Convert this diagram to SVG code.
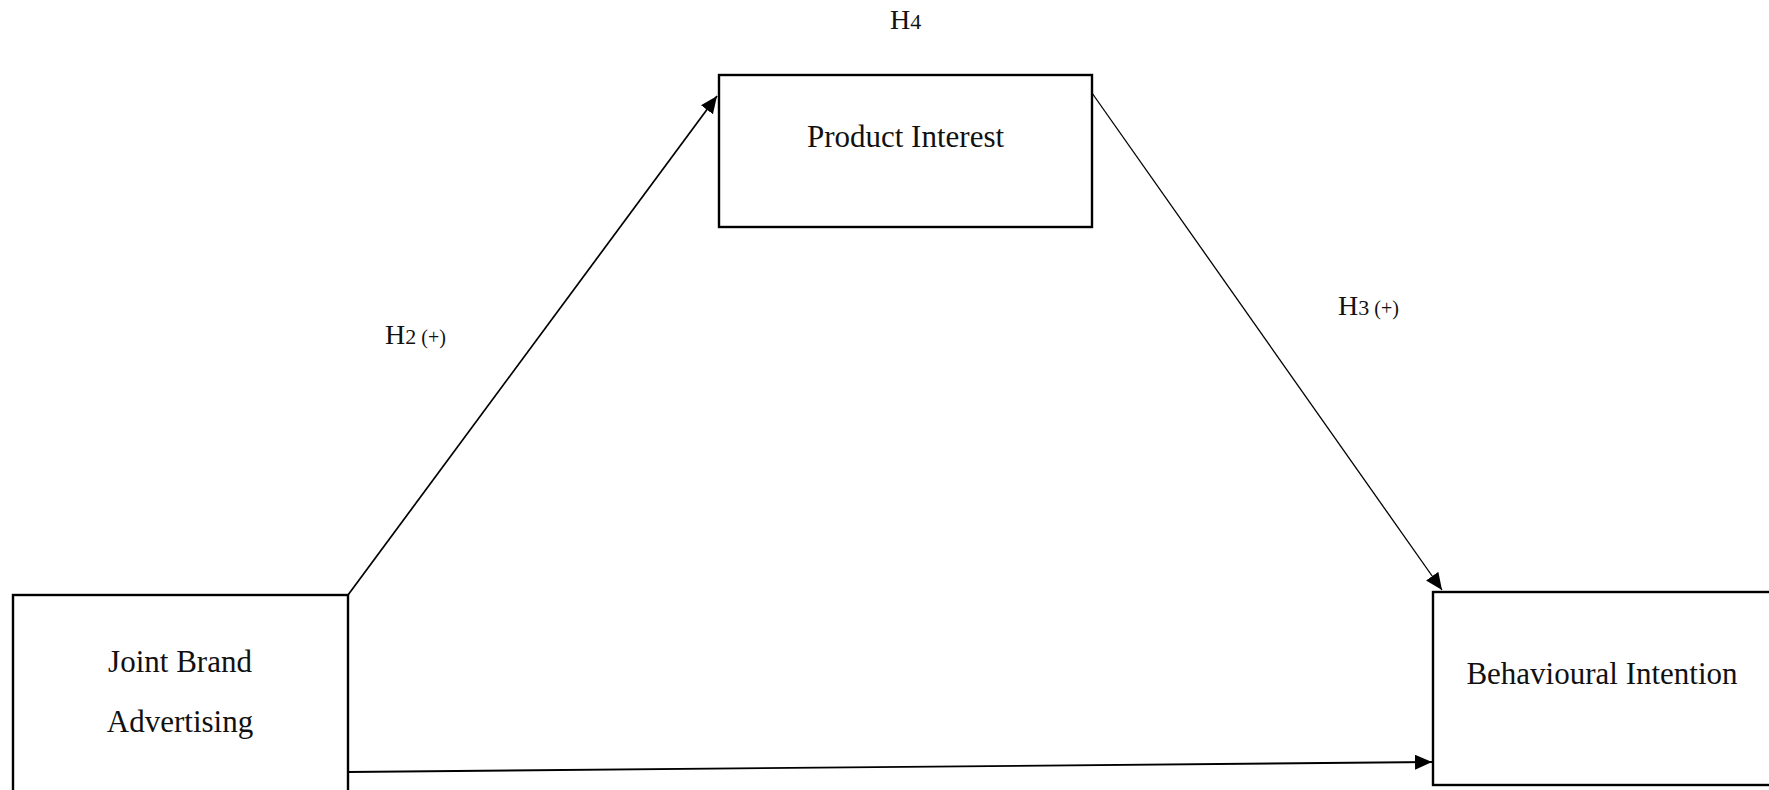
<svg xmlns="http://www.w3.org/2000/svg" width="1769" height="790" viewBox="0 0 1769 790">
  <style>
    .box { fill: #ffffff; stroke: #000000; stroke-width: 2.4; }
    .label { font-family: "Liberation Serif", "Times New Roman", serif; font-size: 31px; fill: #111111; text-anchor: middle; }
    .hyp { font-family: "Liberation Serif", "Times New Roman", serif; font-size: 28px; fill: #111111; }
    .small { font-size: 22px; }
    .tiny { font-size: 20px; }
    .link { fill: none; stroke: #000000; }
  </style>
  <defs>
    <marker id="head" markerUnits="userSpaceOnUse" markerWidth="18" markerHeight="16" refX="17" refY="7.5" orient="auto">
      <path d="M0,0 L17,7.5 L0,15 z" fill="#000000"/>
    </marker>
  </defs>

  <rect width="1769" height="790" fill="#ffffff"/>

  <!-- connectors -->
  <g id="connectors">
    <line class="link" x1="348" y1="595" x2="717" y2="96" stroke-width="1.7" marker-end="url(#head)"/>
    <line class="link" x1="1092" y1="93" x2="1442" y2="590" stroke-width="1.3" marker-end="url(#head)"/>
    <line class="link" x1="348" y1="772" x2="1432" y2="762" stroke-width="1.8" marker-end="url(#head)"/>
  </g>

  <!-- hypothesis labels -->
  <g id="labels">
    <text class="hyp" x="890" y="29">H<tspan class="small">4</tspan></text>
    <text class="hyp" x="385" y="344">H<tspan class="small">2</tspan><tspan class="tiny"> (+)</tspan></text>
    <text class="hyp" x="1338" y="315">H<tspan class="small">3</tspan><tspan class="tiny"> (+)</tspan></text>
  </g>

  <!-- nodes -->
  <g id="product-interest">
    <rect class="box" x="719" y="75" width="373" height="152"/>
    <text class="label" x="905.5" y="147">Product Interest</text>
  </g>

  <g id="joint-brand-advertising">
    <rect class="box" x="13" y="595" width="335" height="210"/>
    <text class="label" x="180" y="672">Joint Brand</text>
    <text class="label" x="180" y="732">Advertising</text>
  </g>

  <g id="behavioural-intention">
    <rect class="box" x="1433" y="592" width="350" height="193"/>
    <text class="label" x="1602" y="684">Behavioural Intention</text>
  </g>
</svg>
